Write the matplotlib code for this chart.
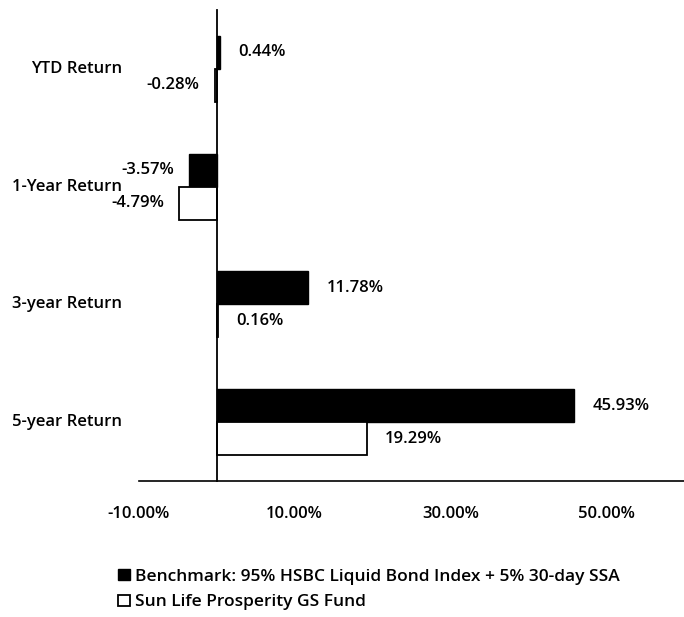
"""Horizontal bar chart: fund returns vs. benchmark."""

import numpy as np
import matplotlib
matplotlib.use("Agg")
import matplotlib.pyplot as plt

categories = ["YTD Return", "1-Year Return", "3-year Return", "5-year Return"]
benchmark = [0.44, -3.57, 11.78, 45.93]
fund = [-0.28, -4.79, 0.16, 19.29]
series_names = [
    "Benchmark: 95% HSBC Liquid Bond Index + 5% 30-day SSA",
    "Sun Life Prosperity GS Fund",
]
x_ticks = [-10, 10, 30, 50]

plt.rcParams["font.family"] = ["Open Sans", "DejaVu Sans"]
plt.rcParams["font.size"] = 12
plt.rcParams["font.weight"] = "semibold"

fig = plt.figure(figsize=(6.84, 6.17), dpi=100)
ax = fig.add_axes([0.203, 0.22, 0.797, 0.764])

y = np.arange(len(categories))
h = 0.28
bars_b = ax.barh(y - h / 2, benchmark, height=h, color="black",
                 edgecolor="black", linewidth=1.0, label=series_names[0])
bars_f = ax.barh(y + h / 2, fund, height=h, color="white",
                 edgecolor="black", linewidth=1.3, label=series_names[1])

for bars, vals in ((bars_b, benchmark), (bars_f, fund)):
    for bar, v in zip(bars, vals):
        yc = bar.get_y() + bar.get_height() / 2
        off = 13 if v >= 0 else -11
        ax.annotate(f"{v:.2f}%", (v, yc), xytext=(off, 0),
                    textcoords="offset points", va="center",
                    ha="left" if v >= 0 else "right")

ax.set_xlim(-10, 60)
ax.set_ylim(3.5, -0.5)

ax.set_xticks(x_ticks)
ax.set_xticklabels([f"{t:.2f}%" for t in x_ticks])
ax.tick_params(axis="x", length=0, pad=18)
ax.set_yticks([])

for yi, name in zip(y, categories):
    ax.text(-0.03, yi, name, transform=ax.get_yaxis_transform(),
            ha="right", va="center")

ax.spines["left"].set_position(("data", 0))
ax.spines["left"].set_linewidth(1.3)
ax.spines["bottom"].set_linewidth(1.2)
ax.spines["top"].set_visible(False)
ax.spines["right"].set_visible(False)

fig.legend(handles=[bars_b, bars_f], labels=series_names,
           loc="upper left", bbox_to_anchor=(0.172, 0.078),
           frameon=False, borderpad=0, borderaxespad=0, fontsize=12.5,
           handlelength=0.7, handleheight=0.6, handletextpad=0.3,
           labelspacing=0.55)

fig.savefig("out.png", dpi=100)
